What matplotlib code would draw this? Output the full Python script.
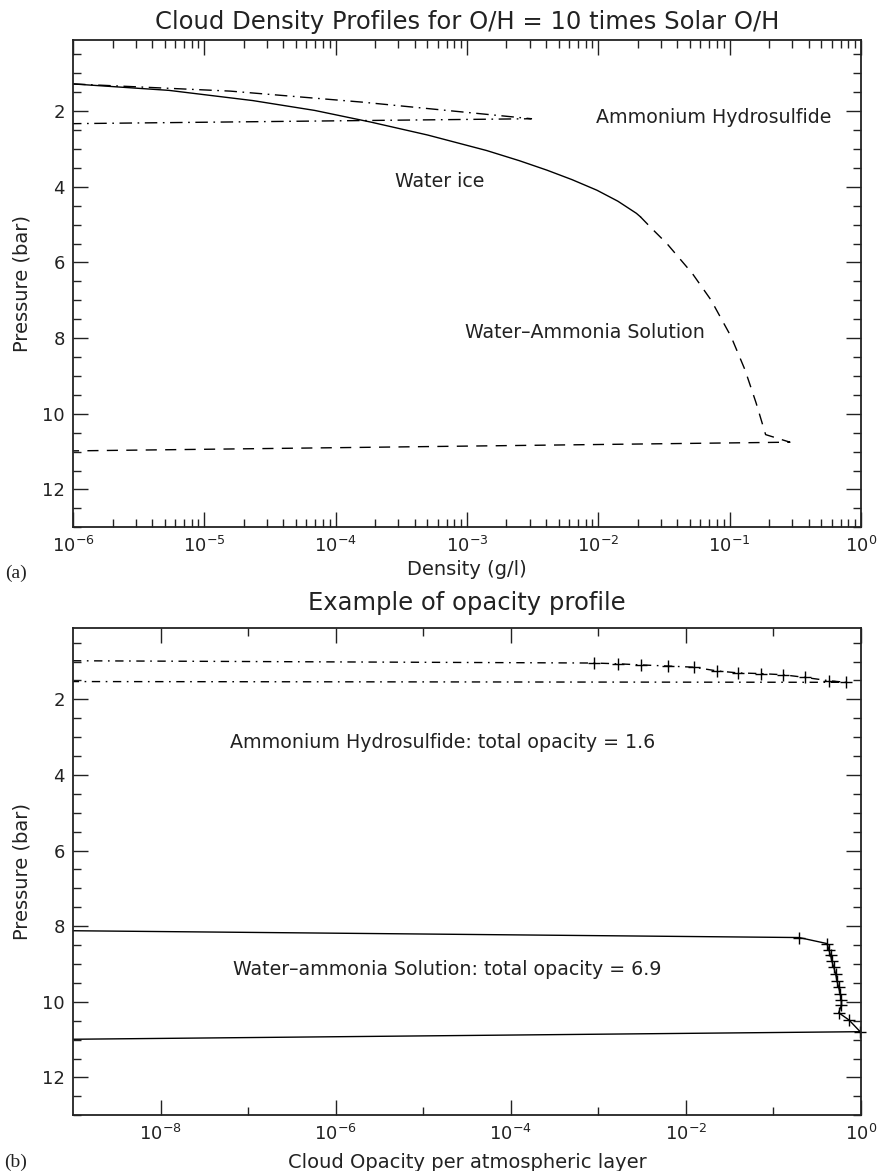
import numpy as np
import matplotlib
matplotlib.use("Agg")
import matplotlib.pyplot as plt
from matplotlib.ticker import FixedLocator, MultipleLocator, FuncFormatter, NullFormatter

# ---------------- data: panel (a) cloud density profiles ----------------
ice_density = [1e-6, 5.37e-6, 2.34e-5, 6.92e-5, 1.86e-4, 5.01e-4, 1.41e-3, 2.51e-3,
               4.07e-3, 6.31e-3, 9.77e-3, 1.41e-2, 1.95e-2, 2.09e-2]
ice_pressure = [1.28, 1.45, 1.72, 1.98, 2.29, 2.63, 3.04, 3.31,
                3.56, 3.81, 4.09, 4.38, 4.70, 4.79]

nh4sh_density = [1e-6, 1.58e-5, 1.58e-4, 3.1e-3, 1e-6]
nh4sh_pressure = [1.28, 1.47, 1.76, 2.20, 2.33]

solution_density = [2.09e-2, 2.55e-2, 3.33e-2, 5.2e-2, 7.21e-2, 0.1026, 0.131, 0.159,
                    0.188, 0.288, 1e-6]
solution_pressure = [4.79, 5.10, 5.50, 6.29, 6.99, 7.96, 8.84, 9.71,
                     10.55, 10.75, 10.98]

# ---------------- data: panel (b) opacity profile ----------------
nh4sh_opacity = [1e-9, 8.9e-4, 1.66e-3, 3.1e-3, 6.3e-3, 1.23e-2, 2.29e-2, 3.9e-2, 7.2e-2,
                 0.129, 0.229, 0.436, 0.676, 1e-9]
nh4sh_op_pressure = [0.98, 1.04, 1.06, 1.09, 1.12, 1.15, 1.25, 1.30, 1.32,
                     1.35, 1.42, 1.51, 1.55, 1.53]

sol_opacity = [1e-9, 0.197, 0.41, 0.43, 0.45, 0.466, 0.49, 0.515, 0.533, 0.557,
               0.58, 0.598, 0.598, 0.557, 0.73, 0.98, 1e-9]
sol_op_pressure = [8.12, 8.30, 8.46, 8.62, 8.77, 8.93, 9.09, 9.27, 9.45, 9.62,
                   9.80, 9.95, 10.09, 10.29, 10.48, 10.79, 10.99]

y_major = [2, 4, 6, 8, 10, 12]
x_major_a = [1e-6, 1e-5, 1e-4, 1e-3, 1e-2, 1e-1, 1e0]
x_major_b = [1e-8, 1e-6, 1e-4, 1e-2, 1e0]
x_minor_b = [1e-7, 1e-5, 1e-3, 1e-1]

plt.rcParams["font.family"] = ["DejaVu Sans"]
plt.rcParams["mathtext.default"] = "regular"
plt.rcParams["axes.linewidth"] = 1.3

INK = "#222222"
fig = plt.figure(figsize=(8.77, 11.71), dpi=100)
ax1 = fig.add_axes([0.0832, 0.5497, 0.8985, 0.4161])
ax2 = fig.add_axes([0.0832, 0.0476, 0.8985, 0.4159])

pow_fmt = FuncFormatter(lambda v, pos: r"$10^{%d}$" % int(round(np.log10(v))))
TICK_FS = 13
TXT_FS = 13.7
LAB_FS = 14
TITLE_FS = 17.5

def style(ax):
    ax.set_xscale("log")
    ax.set_ylim(13, 0.12)
    ax.yaxis.set_major_locator(FixedLocator(y_major))
    ax.yaxis.set_minor_locator(MultipleLocator(0.5))
    ax.tick_params(which="both", direction="in", top=True, right=True, width=1.0,
                   colors=INK, labelsize=TICK_FS, pad=6)
    ax.tick_params(which="major", length=11)
    ax.tick_params(which="minor", length=5.8)
    ax.xaxis.set_major_formatter(pow_fmt)
    ax.xaxis.set_minor_formatter(NullFormatter())
    for s in ax.spines.values():
        s.set_color(INK)

# ---------------- panel (a) ----------------
style(ax1)
ax1.set_xlim(1e-6, 1e0)
ax1.xaxis.set_major_locator(FixedLocator(x_major_a))
ax1.xaxis.set_minor_locator(FixedLocator(
    [m * 10.0 ** e for e in range(-6, 0) for m in range(2, 10)]))

ax1.plot(ice_density, ice_pressure, color="black", lw=1.0)
ax1.plot(nh4sh_density, nh4sh_pressure, color="black", lw=1.0, linestyle=(0, (9, 4, 1.2, 4)))
ax1.plot(solution_density, solution_pressure, color="black", lw=1.0, linestyle=(0, (8, 6)))

ax1.text(6.2e-4, 3.87, "Water ice", fontsize=TXT_FS, ha="center", va="center", color=INK)
ax1.text(0.076, 2.17, "Ammonium Hydrosulfide", fontsize=TXT_FS, ha="center", va="center", color=INK)
ax1.text(7.9e-3, 7.85, "Water–Ammonia Solution", fontsize=TXT_FS, ha="center", va="center", color=INK)

ax1.set_title("Cloud Density Profiles for O/H = 10 times Solar O/H", fontsize=TITLE_FS,
              y=1.0376, va="center", pad=0, color=INK)
ax1.set_xlabel("Density (g/l)", fontsize=LAB_FS, color=INK)
ax1.xaxis.set_label_coords(0.5, -0.0876)
ax1.xaxis.label.set_va("center")
ax1.set_ylabel("Pressure (bar)", fontsize=LAB_FS, color=INK)
ax1.yaxis.set_label_coords(-0.0650, 0.5)
ax1.yaxis.label.set_va("center")

# ---------------- panel (b) ----------------
style(ax2)
ax2.set_xlim(1e-9, 1e0)
ax2.xaxis.set_major_locator(FixedLocator(x_major_b))
ax2.xaxis.set_minor_locator(FixedLocator(x_minor_b))

ax2.plot(nh4sh_opacity, nh4sh_op_pressure, color="black", lw=1.0, linestyle=(0, (6, 4, 1.2, 4)))
ax2.plot(nh4sh_opacity[1:-1], nh4sh_op_pressure[1:-1], linestyle="none", marker="+",
         ms=8, mew=1.0, color="black", clip_on=False)
ax2.plot(sol_opacity, sol_op_pressure, color="black", lw=1.0)
ax2.plot(sol_opacity[1:-1], sol_op_pressure[1:-1], linestyle="none", marker="+",
         ms=8, mew=1.0, color="black", clip_on=False)

ax2.text(10 ** -4.774, 3.13, "Ammonium Hydrosulfide: total opacity = 1.6", fontsize=TXT_FS,
         ha="center", va="center", color=INK)
ax2.text(10 ** -4.723, 9.15, "Water–ammonia Solution: total opacity = 6.9", fontsize=TXT_FS,
         ha="center", va="center", color=INK)

ax2.set_title("Example of opacity profile", fontsize=TITLE_FS, y=1.052, va="center", pad=0,
              color=INK)
ax2.set_xlabel("Cloud Opacity per atmospheric layer", fontsize=LAB_FS, color=INK)
ax2.xaxis.set_label_coords(0.5, -0.098)
ax2.xaxis.label.set_va("center")
ax2.set_ylabel("Pressure (bar)", fontsize=LAB_FS, color=INK)
ax2.yaxis.set_label_coords(-0.0650, 0.5)
ax2.yaxis.label.set_va("center")

fig.text(16 / 877, 1 - 573 / 1171, "(a)", family="Liberation Serif", fontsize=14,
         ha="center", va="center", color=INK)
fig.text(16 / 877, 1 - 1162 / 1171, "(b)", family="Liberation Serif", fontsize=14,
         ha="center", va="center", color=INK)

fig.savefig("out.png", dpi=100)
